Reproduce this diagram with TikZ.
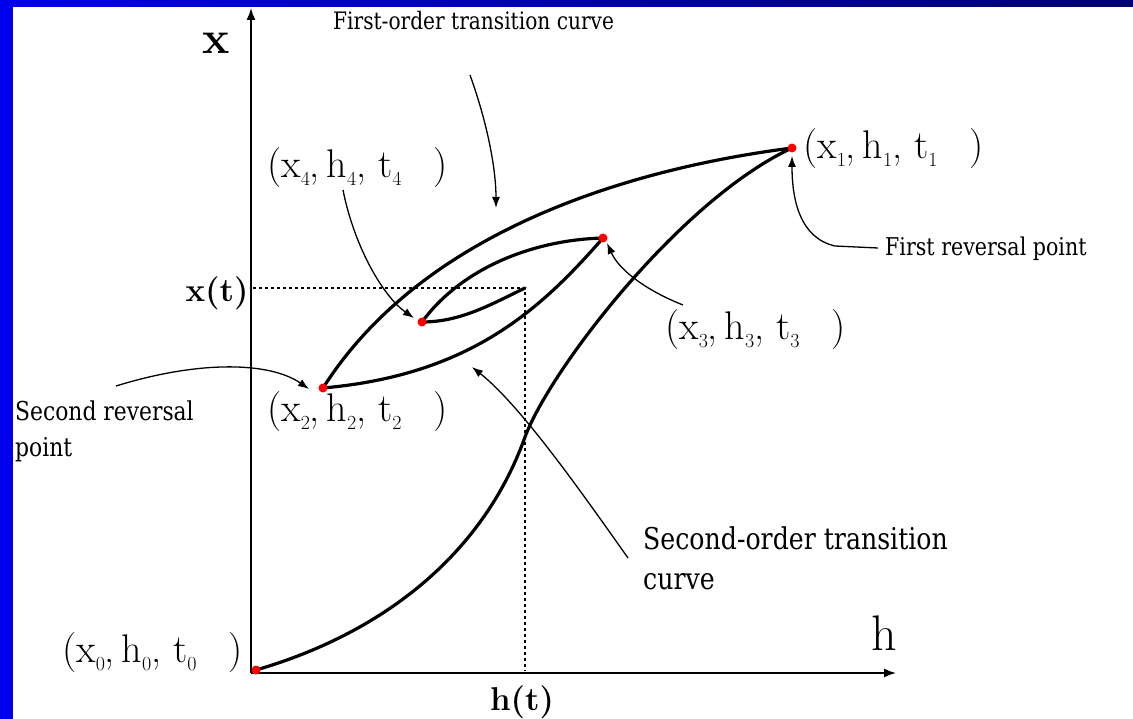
\documentclass[tikz,border=0pt]{standalone}
\usepackage{fontspec}
\newfontfamily\annfont[FakeStretch=0.84]{DejaVu Serif}
\usetikzlibrary{arrows.meta}
\newcommand\lsub[1]{\raisebox{-0.2em}{\fontsize{20}{20}\selectfont #1}}
\newcommand\ptlabel[1]{(x\lsub{#1},\,h\lsub{#1},\ t\lsub{#1}\hspace{0.8em})}
\definecolor{bandL}{RGB}{0,0,238}
\definecolor{bandR}{RGB}{0,0,112}
\begin{document}
\begin{tikzpicture}[x=1pt,y=-1pt,
  curve/.style={line width=3.2pt, line cap=round, line join=round},
  axis/.style={line width=1.6pt,-{Latex[length=12pt,width=9pt]}},
  leader/.style={line width=1.3pt,-{Latex[length=11pt,width=8pt]}},
  guide/.style={line width=1.3pt, dash pattern=on 3pt off 3pt},
  lab/.style={font=\fontsize{40}{44}\selectfont, anchor=base west, inner sep=0pt},
  axlab/.style={inner sep=0pt, anchor=base},
  ann/.style={anchor=base west, inner sep=0pt, align=left},
]
\useasboundingbox (0,0) rectangle (1133,719);
\fill[white] (0,0) rectangle (1133,719);
\shade[left color=bandL, right color=bandR] (0,0) rectangle (1133,7);
\fill[bandL] (0,0) rectangle (13,719);

% axes
\coordinate (O) at (251,673);
\coordinate (ytip) at (251,8);
\coordinate (xtip) at (896,673);
\draw[axis] (O) -- (ytip);
\draw[axis] (O) -- (xtip);
\node[axlab, font=\fontsize{46}{50}\selectfont\bfseries] (xax) at (216,54) {x};
\node[axlab, font=\fontsize{50}{54}\selectfont] (hax) at (884,650) {h};

% guide lines
\coordinate (gx) at (253,288);
\coordinate (gc) at (525,288);
\coordinate (gh) at (525,671);
\draw[guide] (gx) -- (gc) -- (gh);
\node[axlab, font=\fontsize{33}{38}\selectfont\bfseries] (xt) at (217,302) {x(t)};
\node[axlab, font=\fontsize{33}{38}\selectfont\bfseries] (ht) at (522,710) {h(t)};

% reversal points
\coordinate (p0) at (256,670);
\coordinate (p1) at (792,148);
\coordinate (p2) at (323,388);
\coordinate (p3) at (603,238);
\coordinate (p4) at (422,322);
\coordinate (pm) at (525,437);
\coordinate (tip) at (525,288);

% curves
\draw[curve] (p0) .. controls (380,634) and (482,557) .. (pm)
             .. controls (550,370) and (680,200) .. (p1);
\draw[curve] (p1) .. controls (620,170) and (420,235) .. (p2);
\draw[curve] (p2) .. controls (470,375) and (540,310) .. (p3);
\draw[curve] (p3) .. controls (530,240) and (460,270) .. (p4);
\draw[curve] (p4) .. controls (460,322) and (490,305) .. (tip);

\foreach \p in {p0,p1,p2,p3,p4} \fill[red] (\p) circle (4.5pt);

% point labels
\node[lab] (l1) at (803,159) {\ptlabel{1}};
\node[lab] (l4) at (267,178) {\ptlabel{4}};
\node[lab] (l3) at (665,340) {\ptlabel{3}};
\node[lab] (l2) at (267,421) {\ptlabel{2}};
\node[lab] (l0) at (62,662) {\ptlabel{0}};

% annotations (base anchor = baseline of last line)
\node[ann, font=\annfont\fontsize{24}{30}\selectfont] (a1) at (333,30) {First-order transition curve};
\node[ann, font=\annfont\fontsize{24.5}{30}\selectfont] (a2) at (885,256) {First reversal point};
\node[ann, font=\annfont\fontsize{26}{36}\selectfont] (a3) at (15,456) {Second reversal\\point};
\node[ann, font=\annfont\fontsize{30}{40}\selectfont] (a4) at (643,589) {Second-order transition\\curve};

% leaders
\coordinate (s1) at (470,75);  \coordinate (e1) at (496,208);
\draw[leader] (s1) .. controls (488,125) and (496,170) .. (e1);
\coordinate (s4) at (343,190); \coordinate (e4) at (414,318);
\draw[leader] (s4) .. controls (355,250) and (385,298) .. (e4);
\coordinate (s2) at (116,386); \coordinate (e2) at (309,389);
\draw[leader] (s2) .. controls (200,360) and (270,362) .. (e2);
\coordinate (s3) at (683,305); \coordinate (e3) at (607,243);
\draw[leader] (s3) .. controls (650,292) and (620,272) .. (e3);
\coordinate (s5) at (878,248); \coordinate (k5) at (835,246); \coordinate (e5) at (792,156);
\draw[leader] (s5) -- (k5) .. controls (800,238) and (792,200) .. (e5);
\coordinate (s6) at (628,558); \coordinate (e6) at (472,367);
\draw[leader] (s6) .. controls (580,490) and (520,405) .. (e6);
\end{tikzpicture}
\end{document}
